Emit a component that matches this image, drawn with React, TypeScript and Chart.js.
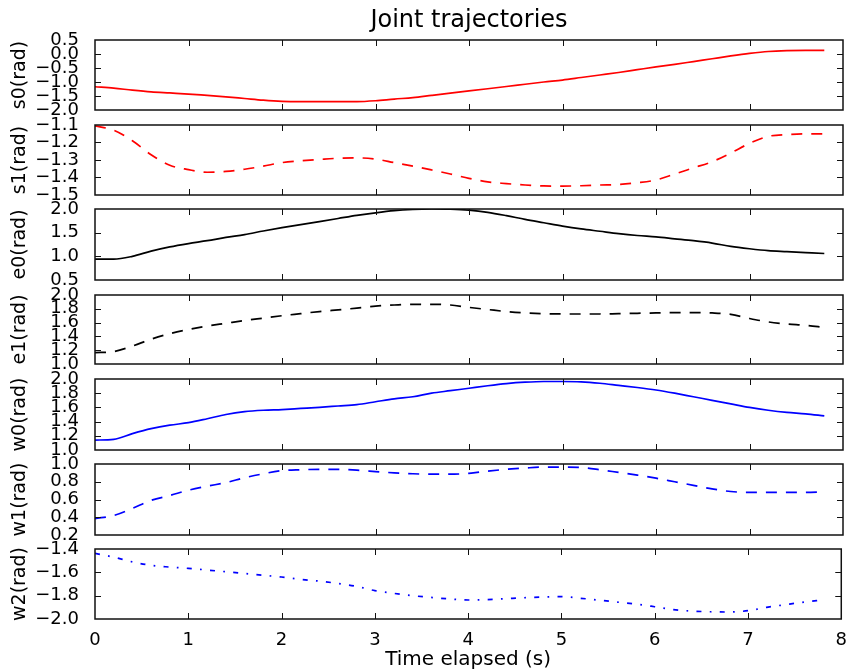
import React, { useEffect, useRef } from "react";
import { Chart, registerables } from "chart.js";

Chart.register(...registerables);

// ---------- data ----------
const TIME = [
  0, 0.2, 0.4, 0.6, 0.8, 1.0, 1.2, 1.4, 1.6, 1.8,
  2.0, 2.2, 2.4, 2.6, 2.8, 3.0, 3.2, 3.4, 3.6, 3.8,
  4.0, 4.2, 4.4, 4.6, 4.8, 5.0, 5.2, 5.4, 5.6, 5.8,
  6.0, 6.2, 6.4, 6.6, 6.8, 7.0, 7.2, 7.4, 7.6, 7.8,
];

const S0 = [
  -1.17, -1.22, -1.29, -1.35, -1.39, -1.43, -1.48, -1.53, -1.59, -1.65,
  -1.69, -1.70, -1.70, -1.70, -1.70, -1.67, -1.61, -1.56, -1.48, -1.40,
  -1.32, -1.24, -1.16, -1.08, -1.00, -0.93, -0.84, -0.75, -0.66, -0.56,
  -0.46, -0.37, -0.27, -0.17, -0.07, 0.02, 0.09, 0.12, 0.13, 0.13,
];
const S1 = [
  -1.105, -1.13, -1.19, -1.27, -1.33, -1.355, -1.37, -1.365, -1.353, -1.335,
  -1.315, -1.305, -1.297, -1.29, -1.288, -1.295, -1.315, -1.335, -1.357, -1.38,
  -1.405, -1.425, -1.435, -1.443, -1.448, -1.449, -1.447, -1.443, -1.44, -1.43,
  -1.414, -1.38, -1.345, -1.31, -1.26, -1.205, -1.165, -1.155, -1.151, -1.151,
];
const E0 = [
  0.94, 0.94, 1.0, 1.11, 1.2, 1.27, 1.33, 1.4, 1.46, 1.535,
  1.605, 1.67, 1.735, 1.8, 1.865, 1.92, 1.965, 1.99, 2.0, 1.995,
  1.975, 1.93, 1.86, 1.78, 1.71, 1.64, 1.58, 1.53, 1.48, 1.44,
  1.41, 1.37, 1.33, 1.28, 1.21, 1.16, 1.12, 1.1, 1.08, 1.06,
];
const E1 = [
  1.165, 1.18, 1.26, 1.36, 1.44, 1.5, 1.55, 1.59, 1.63, 1.665,
  1.7, 1.73, 1.76, 1.785, 1.81, 1.84, 1.855, 1.865, 1.865, 1.855,
  1.82, 1.79, 1.76, 1.74, 1.73, 1.725, 1.725, 1.725, 1.73, 1.735,
  1.74, 1.745, 1.745, 1.74, 1.72, 1.66, 1.61, 1.58, 1.56, 1.53,
];
const W0 = [
  1.14, 1.15, 1.23, 1.3, 1.35, 1.385, 1.44, 1.5, 1.54, 1.56,
  1.57, 1.585, 1.6, 1.62, 1.64, 1.68, 1.72, 1.75, 1.8, 1.835,
  1.87, 1.905, 1.935, 1.955, 1.965, 1.965, 1.96, 1.94, 1.91, 1.88,
  1.845, 1.8, 1.75, 1.7, 1.65, 1.6, 1.56, 1.53, 1.51, 1.48,
];
const W1 = [
  0.385, 0.42, 0.5, 0.59, 0.645, 0.705, 0.75, 0.79, 0.845, 0.89,
  0.925, 0.935, 0.94, 0.94, 0.93, 0.915, 0.9, 0.89, 0.885, 0.885,
  0.895, 0.92, 0.94, 0.955, 0.965, 0.965, 0.96, 0.935, 0.905, 0.875,
  0.84, 0.8, 0.76, 0.72, 0.69, 0.68, 0.68, 0.68, 0.68, 0.685,
];
const W2 = [
  -1.437, -1.47, -1.51, -1.54, -1.555, -1.566, -1.58, -1.595, -1.61, -1.625,
  -1.64, -1.66, -1.675, -1.695, -1.72, -1.757, -1.78, -1.8, -1.815, -1.828,
  -1.837, -1.834, -1.826, -1.818, -1.812, -1.808, -1.822, -1.838, -1.855, -1.872,
  -1.895, -1.92, -1.932, -1.938, -1.94, -1.929, -1.9, -1.877, -1.855, -1.838,
];

const X_TICKS = [0, 1, 2, 3, 4, 5, 6, 7, 8];

const LABELS = ["s0(rad)", "s1(rad)", "e0(rad)", "e1(rad)", "w0(rad)", "w1(rad)", "w2(rad)"];
const SERIES = [S0, S1, E0, E1, W0, W1, W2];
const Y_TICKS = [
  [-2.0, -1.5, -1.0, -0.5, 0.0, 0.5],
  [-1.5, -1.4, -1.3, -1.2, -1.1],
  [0.5, 1.0, 1.5, 2.0],
  [1.0, 1.2, 1.4, 1.6, 1.8, 2.0],
  [1.0, 1.2, 1.4, 1.6, 1.8, 2.0],
  [0.2, 0.4, 0.6, 0.8, 1.0],
  [-2.0, -1.8, -1.6, -1.4],
];

const TITLE = "Joint trajectories";
const X_LABEL = "Time elapsed (s)";

// ---------- styling / layout ----------
const RED = "#ff0000";
const BLUE = "#0000ff";
const BLACK = "#000000";
const COLORS = [RED, RED, BLACK, BLACK, BLUE, BLUE, BLUE];
const DASH_LONG = [11, 9];
const DASH_DOT = [5, 8.3, 1.7, 8.3];
const DASHES = [[], DASH_LONG, [], DASH_LONG, [], DASH_LONG, DASH_DOT];

const W = 850;
const H = 672;
const AXIS_W = 95;
const RIGHT_PAD = 7;
const PANEL_TOP = [40, 125, 209, 295, 379, 464, 549];
const PANEL_BOTTOM = [110, 195, 280, 364, 450, 535, 619];
const EXTRA = 20;
const FONT = "'DejaVu Sans', 'Liberation Sans', sans-serif";
const TICK_SIZE = 18;

const fmt = (v: number) => {
  const s = Number(v).toFixed(1);
  return s === "-0.0" ? "0.0" : s.replace("-", "\u2212");
};

const frameTicks = {
  id: "frameTicks",
  afterDatasetsDraw(chart: any, _args: any, opts: any) {
    const { ctx, chartArea, scales } = chart;
    const { left, right, top, bottom } = chartArea;
    const x = scales.x;
    const y = scales.y;
    const L = 6;
    ctx.save();
    ctx.strokeStyle = "#111";
    ctx.lineWidth = 1;
    ctx.beginPath();
    for (const v of X_TICKS) {
      const px = Math.round(x.getPixelForValue(v)) + 0.5;
      if (px <= left + 1 || px >= right - 1) continue;
      ctx.moveTo(px, top);
      ctx.lineTo(px, top + L);
      ctx.moveTo(px, bottom);
      ctx.lineTo(px, bottom - L);
    }
    for (const v of opts.yTicks as number[]) {
      const py = Math.round(y.getPixelForValue(v)) + 0.5;
      if (py <= top + 1 || py >= bottom - 1) continue;
      ctx.moveTo(left, py);
      ctx.lineTo(left + L, py);
      ctx.moveTo(right, py);
      ctx.lineTo(right - L, py);
    }
    ctx.stroke();
    ctx.strokeStyle = "#111";
    ctx.lineWidth = 1.5;
    ctx.strokeRect(left, top, right - left, bottom - top);
    ctx.restore();
  },
};

function Panel({ index }: { index: number }) {
  const ref = useRef<HTMLCanvasElement | null>(null);
  const isFirst = index === 0;
  const isLast = index === SERIES.length - 1;
  const canvasTop = isFirst ? 0 : PANEL_TOP[index] - EXTRA;
  const canvasBottom = isLast ? H : PANEL_BOTTOM[index] + EXTRA;
  const canvasH = canvasBottom - canvasTop;

  useEffect(() => {
    if (!ref.current) return;
    const ticks = Y_TICKS[index];
    const data = TIME.map((t, i) => ({ x: t, y: SERIES[index][i] }));
    const chart = new Chart(ref.current, {
      type: "line",
      data: {
        datasets: [
          {
            data,
            borderColor: COLORS[index],
            borderWidth: 1.7,
            borderDash: DASHES[index],
            borderCapStyle: "butt",
            pointRadius: 0,
            fill: false,
            cubicInterpolationMode: "monotone",
          },
        ],
      },
      options: {
        responsive: false,
        animation: false,
        events: [],
        layout: {
          padding: {
            top: isFirst ? 0 : EXTRA,
            bottom: isLast ? 0 : EXTRA,
            left: 0,
            right: RIGHT_PAD,
          },
        },
        plugins: {
          legend: { display: false },
          tooltip: { enabled: false },
          title: {
            display: isFirst,
            text: TITLE,
            fullSize: false,
            color: "#000",
            font: { family: FONT, size: 24, weight: "normal", lineHeight: 1.2 },
            padding: { top: 6, bottom: 5.2 },
          },
          frameTicks: { yTicks: ticks },
        } as any,
        scales: {
          x: {
            type: "linear",
            min: 0,
            max: 8,
            display: isLast,
            afterBuildTicks: (s: any) => {
              s.ticks = X_TICKS.map((v) => ({ value: v }));
            },
            afterFit: (s: any) => {
              if (isLast) s.height = H - PANEL_BOTTOM[index];
            },
            grid: { display: false },
            border: { display: false },
            ticks: {
              autoSkip: false,
              maxRotation: 0,
              padding: 3,
              color: "#000",
              font: { family: FONT, size: TICK_SIZE },
              callback: (v: any) => String(v),
            },
            title: {
              display: isLast,
              text: X_LABEL,
              color: "#000",
              font: { family: FONT, size: 20, lineHeight: 1.2 },
              padding: { top: 0, bottom: 0 },
            },
          },
          y: {
            type: "linear",
            min: ticks[0],
            max: ticks[ticks.length - 1],
            afterBuildTicks: (s: any) => {
              s.ticks = ticks.map((v) => ({ value: v }));
            },
            afterFit: (s: any) => {
              s.width = AXIS_W;
            },
            grid: { display: false },
            border: { display: false },
            ticks: {
              autoSkip: false,
              padding: 8,
              color: "#000",
              font: { family: FONT, size: TICK_SIZE },
              callback: (v: any) => fmt(v),
            },
            title: {
              display: true,
              text: LABELS[index],
              color: "#000",
              font: { family: FONT, size: 19, lineHeight: 1.2 },
              padding: { top: 9, bottom: 0 },
            },
          },
        },
      } as any,
      plugins: [frameTicks],
    });
    return () => chart.destroy();
  }, [index]);

  return (
    <canvas
      ref={ref}
      width={W}
      height={canvasH}
      style={{
        position: "absolute",
        left: 0,
        top: canvasTop,
        width: W,
        height: canvasH,
      }}
    />
  );
}

export default function App() {
  return (
    <div
      style={{
        position: "absolute",
        left: 0,
        top: 0,
        width: W,
        height: H,
        background: "#fff",
        overflow: "hidden",
      }}
    >
      {SERIES.map((_, i) => (
        <Panel key={i} index={i} />
      ))}
    </div>
  );
}
